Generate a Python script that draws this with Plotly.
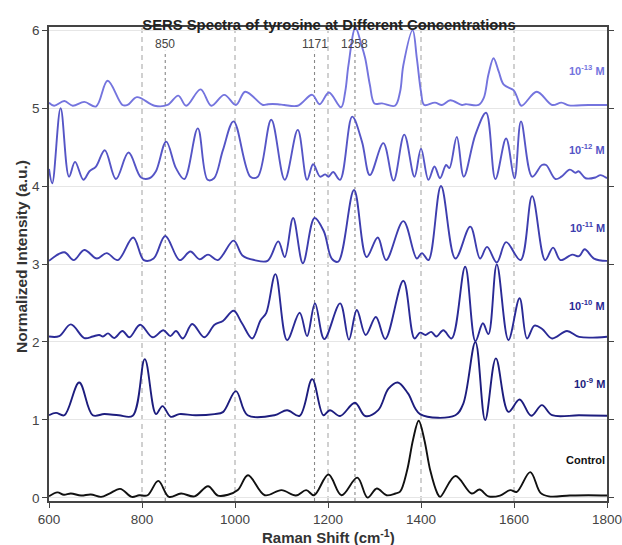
import plotly.graph_objects as go

# ---------------- data ----------------
x_control = [600, 618, 632, 647, 669, 690, 712, 730, 753, 778, 794, 812, 835, 858, 884, 913, 942, 963, 985, 1006,
             1028, 1064, 1100, 1131, 1153, 1170, 1201, 1229, 1263, 1285, 1305, 1326, 1345, 1355, 1370, 1383, 1395,
             1407, 1420, 1435, 1441, 1474, 1509, 1526, 1545, 1570, 1592, 1606, 1635, 1657, 1675, 1720, 1760, 1800]
y_control = [0.02, 0.07, 0.04, 0.056, 0.03, 0.043, 0.013, 0.056, 0.116, 0.013, 0.034, 0.034, 0.218, 0.013, 0.056,
             0.02, 0.15, 0.03, 0.04, 0.10, 0.29, 0.034, 0.10, 0.03, 0.10, 0.034, 0.30, 0.034, 0.26, 0.004, 0.12,
             0.034, 0.056, 0.08, 0.35, 0.75, 0.99, 0.75, 0.35, 0.06, 0.013, 0.28, 0.056, 0.107, 0.02, 0.03, 0.10,
             0.077, 0.33, 0.064, 0.02, 0.03, 0.034, 0.03]

x_1e9 = [600, 615, 633, 665, 694, 719, 750, 780, 806, 830, 844, 862, 880, 915, 956, 974, 1002, 1027, 1085, 1112,
         1139, 1166, 1190, 1204, 1226, 1258, 1280, 1308, 1330, 1350, 1372, 1398, 1474, 1491, 1517, 1538, 1561,
         1588, 1612, 1637, 1660, 1682, 1740, 1800]
y_1e9 = [1.06, 1.09, 1.06, 1.48, 1.06, 1.075, 1.06, 1.053, 1.78, 1.075, 1.177, 1.04, 1.075, 1.06, 1.075, 1.10,
         1.37, 1.06, 1.06, 1.125, 1.053, 1.523, 1.06, 1.125, 1.05, 1.22, 1.05, 1.125, 1.40, 1.48, 1.34, 1.075,
         1.06, 1.21, 2.00, 0.997, 1.79, 1.104, 1.262, 1.053, 1.19, 1.06, 1.06, 1.053]

x_1e10 = [600, 622, 647, 676, 694, 708, 716, 727, 740, 758, 773, 796, 823, 846, 861, 873, 888, 908, 934, 956, 974,
          997, 1015, 1037, 1055, 1067, 1087, 1112, 1139, 1155, 1172, 1192, 1226, 1245, 1262, 1281, 1303, 1323,
          1362, 1386, 1398, 1410, 1422, 1433, 1448, 1466, 1495, 1517, 1533, 1545, 1563, 1588, 1612, 1628, 1644,
          1660, 1682, 1714, 1740, 1800]
y_1e10 = [2.07, 2.075, 2.225, 2.05, 2.07, 2.09, 2.07, 2.11, 2.05, 2.14, 2.06, 2.22, 2.06, 2.15, 2.075, 2.14, 2.045,
          2.23, 2.06, 2.22, 2.27, 2.40, 2.24, 2.045, 2.28, 2.37, 2.87, 2.024, 2.375, 2.075, 2.495, 2.037, 2.495,
          2.03, 2.41, 2.09, 2.32, 2.037, 2.785, 2.045, 2.12, 2.09, 2.13, 2.07, 2.15, 2.045, 2.965, 2.01, 2.24,
          2.10, 2.995, 2.024, 2.56, 2.045, 2.21, 2.17, 2.045, 2.14, 2.065, 2.067]

x_1e11 = [600, 633, 653, 676, 703, 724, 748, 781, 804, 825, 850, 881, 904, 924, 942, 963, 997, 1016, 1042, 1070,
          1093, 1107, 1125, 1146, 1171, 1191, 1208, 1222, 1256, 1283, 1307, 1325, 1362, 1391, 1402, 1416, 1443,
          1474, 1506, 1527, 1542, 1563, 1583, 1614, 1639, 1667, 1684, 1700, 1725, 1740, 1752, 1772, 1800]
y_1e11 = [3.04, 3.15, 3.05, 3.18, 3.07, 3.14, 3.05, 3.34, 3.05, 3.07, 3.36, 3.05, 3.16, 3.06, 3.12, 3.05, 3.30,
          3.11, 3.05, 3.04, 3.29, 3.09, 3.59, 3.01, 3.59, 3.42, 3.07, 3.03, 3.95, 3.09, 3.34, 3.05, 3.55, 3.07,
          3.14, 3.05, 4.00, 3.07, 3.48, 3.07, 3.22, 3.02, 3.28, 3.05, 3.87, 3.05, 3.21, 3.05, 3.12, 3.10, 3.19,
          3.07, 3.04]

x_1e12 = [600, 607, 625, 643, 656, 674, 687, 701, 720, 744, 771, 798, 816, 830, 852, 873, 891, 920, 941, 955, 974,
          997, 1033, 1049, 1078, 1107, 1135, 1155, 1168, 1183, 1194, 1201, 1211, 1226, 1252, 1273, 1290, 1319,
          1341, 1364, 1386, 1400, 1416, 1429, 1441, 1454, 1461, 1477, 1492, 1517, 1540, 1560, 1583, 1601, 1615,
          1639, 1660, 1669, 1689, 1702, 1720, 1732, 1739, 1754, 1775, 1786, 1800]
y_1e12 = [4.22, 4.035, 5.00, 4.12, 4.31, 4.08, 4.19, 4.25, 4.46, 4.09, 4.43, 4.11, 4.10, 4.19, 4.57, 4.23, 4.09,
          4.74, 4.08, 4.10, 4.46, 4.83, 4.12, 4.12, 4.85, 4.08, 4.72, 4.08, 4.28, 4.12, 4.15, 4.12, 4.18, 4.08,
          4.89, 4.57, 4.14, 4.55, 4.07, 4.66, 4.12, 4.48, 4.08, 4.25, 4.10, 4.27, 4.23, 4.63, 4.12, 4.66, 4.94,
          4.09, 4.61, 4.10, 4.83, 4.12, 4.27, 4.27, 4.09, 4.12, 4.21, 4.17, 4.19, 4.10, 4.11, 4.14, 4.10]

x_1e13 = [600, 611, 633, 651, 676, 701, 726, 758, 769, 789, 827, 855, 878, 895, 926, 949, 977, 1002, 1022, 1060,
          1071, 1092, 1106, 1135, 1166, 1182, 1202, 1228, 1237, 1244, 1259, 1272, 1280, 1290, 1300, 1316, 1344,
          1355, 1362, 1382, 1391, 1400, 1407, 1430, 1445, 1463, 1488, 1496, 1524, 1535, 1545, 1556, 1567, 1578,
          1599, 1606, 1616, 1649, 1682, 1702, 1718, 1760, 1800]
y_1e13 = [5.07, 5.03, 5.09, 5.03, 5.08, 5.02, 5.35, 5.04, 5.04, 5.14, 5.03, 5.04, 5.16, 5.03, 5.24, 5.03, 5.17,
          5.04, 5.21, 5.04, 5.05, 5.05, 5.04, 5.03, 5.17, 5.05, 5.20, 5.01, 5.21, 5.55, 6.03, 5.81, 5.64, 5.30,
          5.06, 5.06, 5.03, 5.21, 5.55, 6.00, 5.64, 5.21, 5.04, 5.07, 5.04, 5.10, 5.04, 5.05, 5.04, 5.13, 5.43,
          5.64, 5.47, 5.30, 5.23, 5.15, 5.03, 5.21, 5.04, 5.07, 5.035, 5.04, 5.04]

series_names = ["Control", "10<sup>-9</sup> M", "10<sup>-10</sup> M", "10<sup>-11</sup> M",
                "10<sup>-12</sup> M", "10<sup>-13</sup> M"]
series_x = [x_control, x_1e9, x_1e10, x_1e11, x_1e12, x_1e13]
series_y = [y_control, y_1e9, y_1e10, y_1e11, y_1e12, y_1e13]
label_y = [0.49, 1.48, 2.47, 3.48, 4.47, 5.49]
colors = ["#111111", "#1d1d7e", "#2a2a96", "#3d3dae", "#5555c6", "#7474de"]

major_lines = [800, 1000, 1200, 1400, 1600]
marked_lines = [850, 1171, 1258]
marked_labels = ["850", "1171", "1258"]

FONT = "Liberation Sans, Arial"

# ---------------- figure ----------------
fig = go.Figure()

for xs, ys, c in zip(series_x, series_y, colors):
    fig.add_trace(go.Scatter(x=xs, y=ys, mode="lines",
                             line=dict(color=c, width=1.9, shape="spline", smoothing=1.0),
                             showlegend=False, hoverinfo="skip"))

shapes = []
for v in major_lines:
    shapes.append(dict(type="line", xref="x", yref="paper", x0=v, x1=v, y0=0, y1=1,
                       line=dict(color="#aaaaaa", width=1.1, dash="5px,4px"), layer="below"))
for v in marked_lines:
    shapes.append(dict(type="line", xref="x", yref="paper", x0=v, x1=v, y0=0, y1=0.95,
                       line=dict(color="#888888", width=1.1, dash="3px,3px"), layer="below"))

annotations = []
for v, t in zip(marked_lines, marked_labels):
    annotations.append(dict(x=v, y=5.82, xref="x", yref="y", text=t, showarrow=False,
                            font=dict(family=FONT, size=12, color="#444444")))
for name, ly, c in zip(series_names, label_y, colors):
    annotations.append(dict(x=1800, y=ly, xref="x", yref="y", text="<b>" + name + "</b>", showarrow=False,
                            xanchor="right", yanchor="middle",
                            font=dict(family=FONT, size=11, color=c)))
# axis titles
annotations.append(dict(x=0.5, y=0, xref="paper", yref="paper", text="<b>Raman Shift (cm<sup>-1</sup>)</b>",
                        showarrow=False, xanchor="center", yanchor="middle", yshift=-35,
                        font=dict(family=FONT, size=15, color="#333333")))
annotations.append(dict(x=0, y=0.5, xref="paper", yref="paper", text="<b>Normalized Intensity (a.u.)</b>",
                        showarrow=False, xanchor="center", yanchor="middle", xshift=-28, yshift=7,
                        textangle=-90, font=dict(family=FONT, size=15.5, color="#333333")))

fig.update_layout(
    width=622, height=545,
    margin=dict(l=49, r=15, t=27, b=44, autoexpand=False),
    paper_bgcolor="white", plot_bgcolor="white",
    font=dict(family=FONT, color="#333333"),
    title=dict(text="<b>SERS Spectra of tyrosine at Different Concentrations</b>",
               x=329 / 622, xanchor="center", y=1 - 25 / 545, yanchor="middle", yref="container",
               font=dict(size=14.8, color="#222222")),
    shapes=shapes, annotations=annotations,
    xaxis=dict(range=[600, 1800], tickvals=[600, 800, 1000, 1200, 1400, 1600, 1800],
               showgrid=False, zeroline=False, showline=True, linecolor="#444444", linewidth=1.6,
               mirror=True, ticks="outside", ticklen=5, tickcolor="#444444", automargin=False,
               ticklabeloverflow="allow",
               tickfont=dict(size=13.5, color="#444444")),
    yaxis=dict(range=[-0.04, 6.04], tickvals=[0, 1, 2, 3, 4, 5, 6],
               showgrid=True, gridcolor="#e6e6e6", gridwidth=1, zeroline=False,
               showline=True, linecolor="#444444", linewidth=1.6, automargin=False,
               mirror="ticks", ticks="outside", ticklen=5, tickcolor="#444444",
               ticklabeloverflow="allow",
               tickfont=dict(size=13.5, color="#444444")),
)

fig.write_html("out.html")
